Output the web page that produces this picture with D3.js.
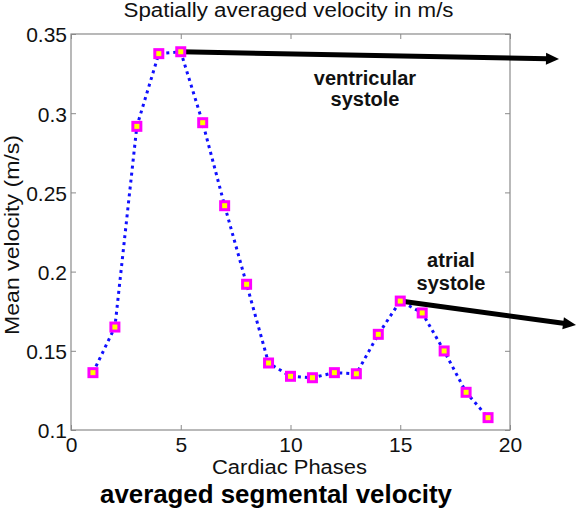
<!DOCTYPE html>
<html><head><meta charset="utf-8">
<script src="https://cdn.jsdelivr.net/npm/d3@7"></script>
<style>body{margin:0;background:#fff}svg{display:block}text{font-family:Arial,"Liberation Sans",sans-serif}</style>
</head><body><svg id="c" width="576" height="509"></svg>
<script>
const phases = [1,2,3,4,5,6,7,8,9,10,11,12,13,14,15,16,17,18,19];
const velocity = [0.1362,0.165,0.2917,0.3376,0.3388,0.294,0.2416,0.192,0.1423,0.1339,0.133,0.1362,0.1355,0.1604,0.1814,0.1739,0.1499,0.1238,0.1078];
const xTicks = [0,5,10,15,20];
const yTicks = [0.1,0.15,0.2,0.25,0.3,0.35];
const yTickLabels = ["0.1","0.15","0.2","0.25","0.3","0.35"];
const annotations = [
  {phase:5, lines:["ventricular","systole"], tip:[559,59], tx:365, ty:[85,106]},
  {phase:15, lines:["atrial","systole"], tip:[576,325], tx:451, ty:[267,290]}
];

const svg = d3.select("#c");
const L=71,R=510,T=34,B=430;
const x = d3.scaleLinear().domain([0,20]).range([L,R]);
const y = d3.scaleLinear().domain([0.1,0.35]).range([B,T]);

svg.append("rect").attr("x",L).attr("y",T).attr("width",R-L).attr("height",B-T)
  .attr("fill","none").attr("stroke","#8a8a8a").attr("stroke-width",1.2);

const gx = svg.append("g").attr("transform",`translate(0,${B})`)
  .call(d3.axisBottom(x).tickValues(xTicks).tickSize(-5).tickPadding(7));
const gxt = svg.append("g").attr("transform",`translate(0,${T})`)
  .call(d3.axisTop(x).tickValues(xTicks).tickSize(-5).tickFormat(""));
const gy = svg.append("g").attr("transform",`translate(${L},0)`)
  .call(d3.axisLeft(y).tickValues(yTicks).tickSize(-5).tickPadding(4).tickFormat((d,i)=>yTickLabels[i]));
const gyr = svg.append("g").attr("transform",`translate(${R},0)`)
  .call(d3.axisRight(y).tickValues(yTicks).tickSize(-5).tickFormat(""));
[gx,gxt,gy,gyr].forEach(g=>{
  g.select(".domain").remove();
  g.selectAll("line").attr("stroke","#8a8a8a");
  g.selectAll("text").attr("font-size",21).attr("fill","#111").style("font-family","Arial,'Liberation Sans',sans-serif");
});
gy.selectAll("text").attr("dy","0.38em");

const data = phases.map((p,i)=>({p,v:velocity[i]}));
svg.append("path").datum(data)
  .attr("d",d3.line().x(d=>x(d.p)).y(d=>y(d.v)))
  .attr("fill","none").attr("stroke","#1010ff").attr("stroke-width",3)
  .attr("stroke-dasharray","3,4");

const headLen = 13, headW = 12;
annotations.forEach(a=>{
  const v = velocity[phases.indexOf(a.phase)];
  const x0=x(a.phase), y0=y(v);
  const dx=a.tip[0]-x0, dy=a.tip[1]-y0, len=Math.hypot(dx,dy);
  const ux=dx/len, uy=dy/len;
  const bx=a.tip[0]-ux*headLen, by=a.tip[1]-uy*headLen;
  svg.append("line").attr("x1",x0).attr("y1",y0).attr("x2",bx+ux*2).attr("y2",by+uy*2)
    .attr("stroke","#000").attr("stroke-width",5);
  svg.append("path").attr("fill","#000")
    .attr("d",`M${a.tip[0]},${a.tip[1]}L${bx-uy*headW/2},${by+ux*headW/2}L${bx+uy*headW/2},${by-ux*headW/2}Z`);
  a.lines.forEach((t,i)=>svg.append("text").attr("x",a.tx).attr("y",a.ty[i])
    .attr("text-anchor","middle").attr("font-size",20).attr("font-weight","bold").attr("fill","#111").text(t));
});

svg.selectAll("rect.m").data(data).enter().append("rect").attr("class","m")
  .attr("x",d=>x(d.p)-4).attr("y",d=>y(d.v)-4).attr("width",8).attr("height",8)
  .attr("fill","#ffff00").attr("stroke","#ff00ff").attr("stroke-width",3);

svg.append("text").attr("x",288.5).attr("y",17).attr("text-anchor","middle").attr("font-size",19.5)
  .attr("textLength",330).attr("lengthAdjust","spacingAndGlyphs").attr("fill","#111").text("Spatially averaged velocity in m/s");
svg.append("text").attr("x",289.5).attr("y",474).attr("text-anchor","middle").attr("font-size",20)
  .attr("textLength",155).attr("lengthAdjust","spacingAndGlyphs").attr("fill","#111").text("Cardiac Phases");
svg.append("text").attr("transform","translate(19,235) rotate(-90)").attr("text-anchor","middle").attr("font-size",21)
  .attr("textLength",200).attr("lengthAdjust","spacingAndGlyphs").attr("fill","#111").text("Mean velocity (m/s)");
svg.append("text").attr("x",276).attr("y",503).attr("text-anchor","middle").attr("font-size",25).attr("font-weight","bold")
  .attr("textLength",352).attr("lengthAdjust","spacingAndGlyphs").attr("fill","#000").text("averaged segmental velocity");
</script></body></html>
